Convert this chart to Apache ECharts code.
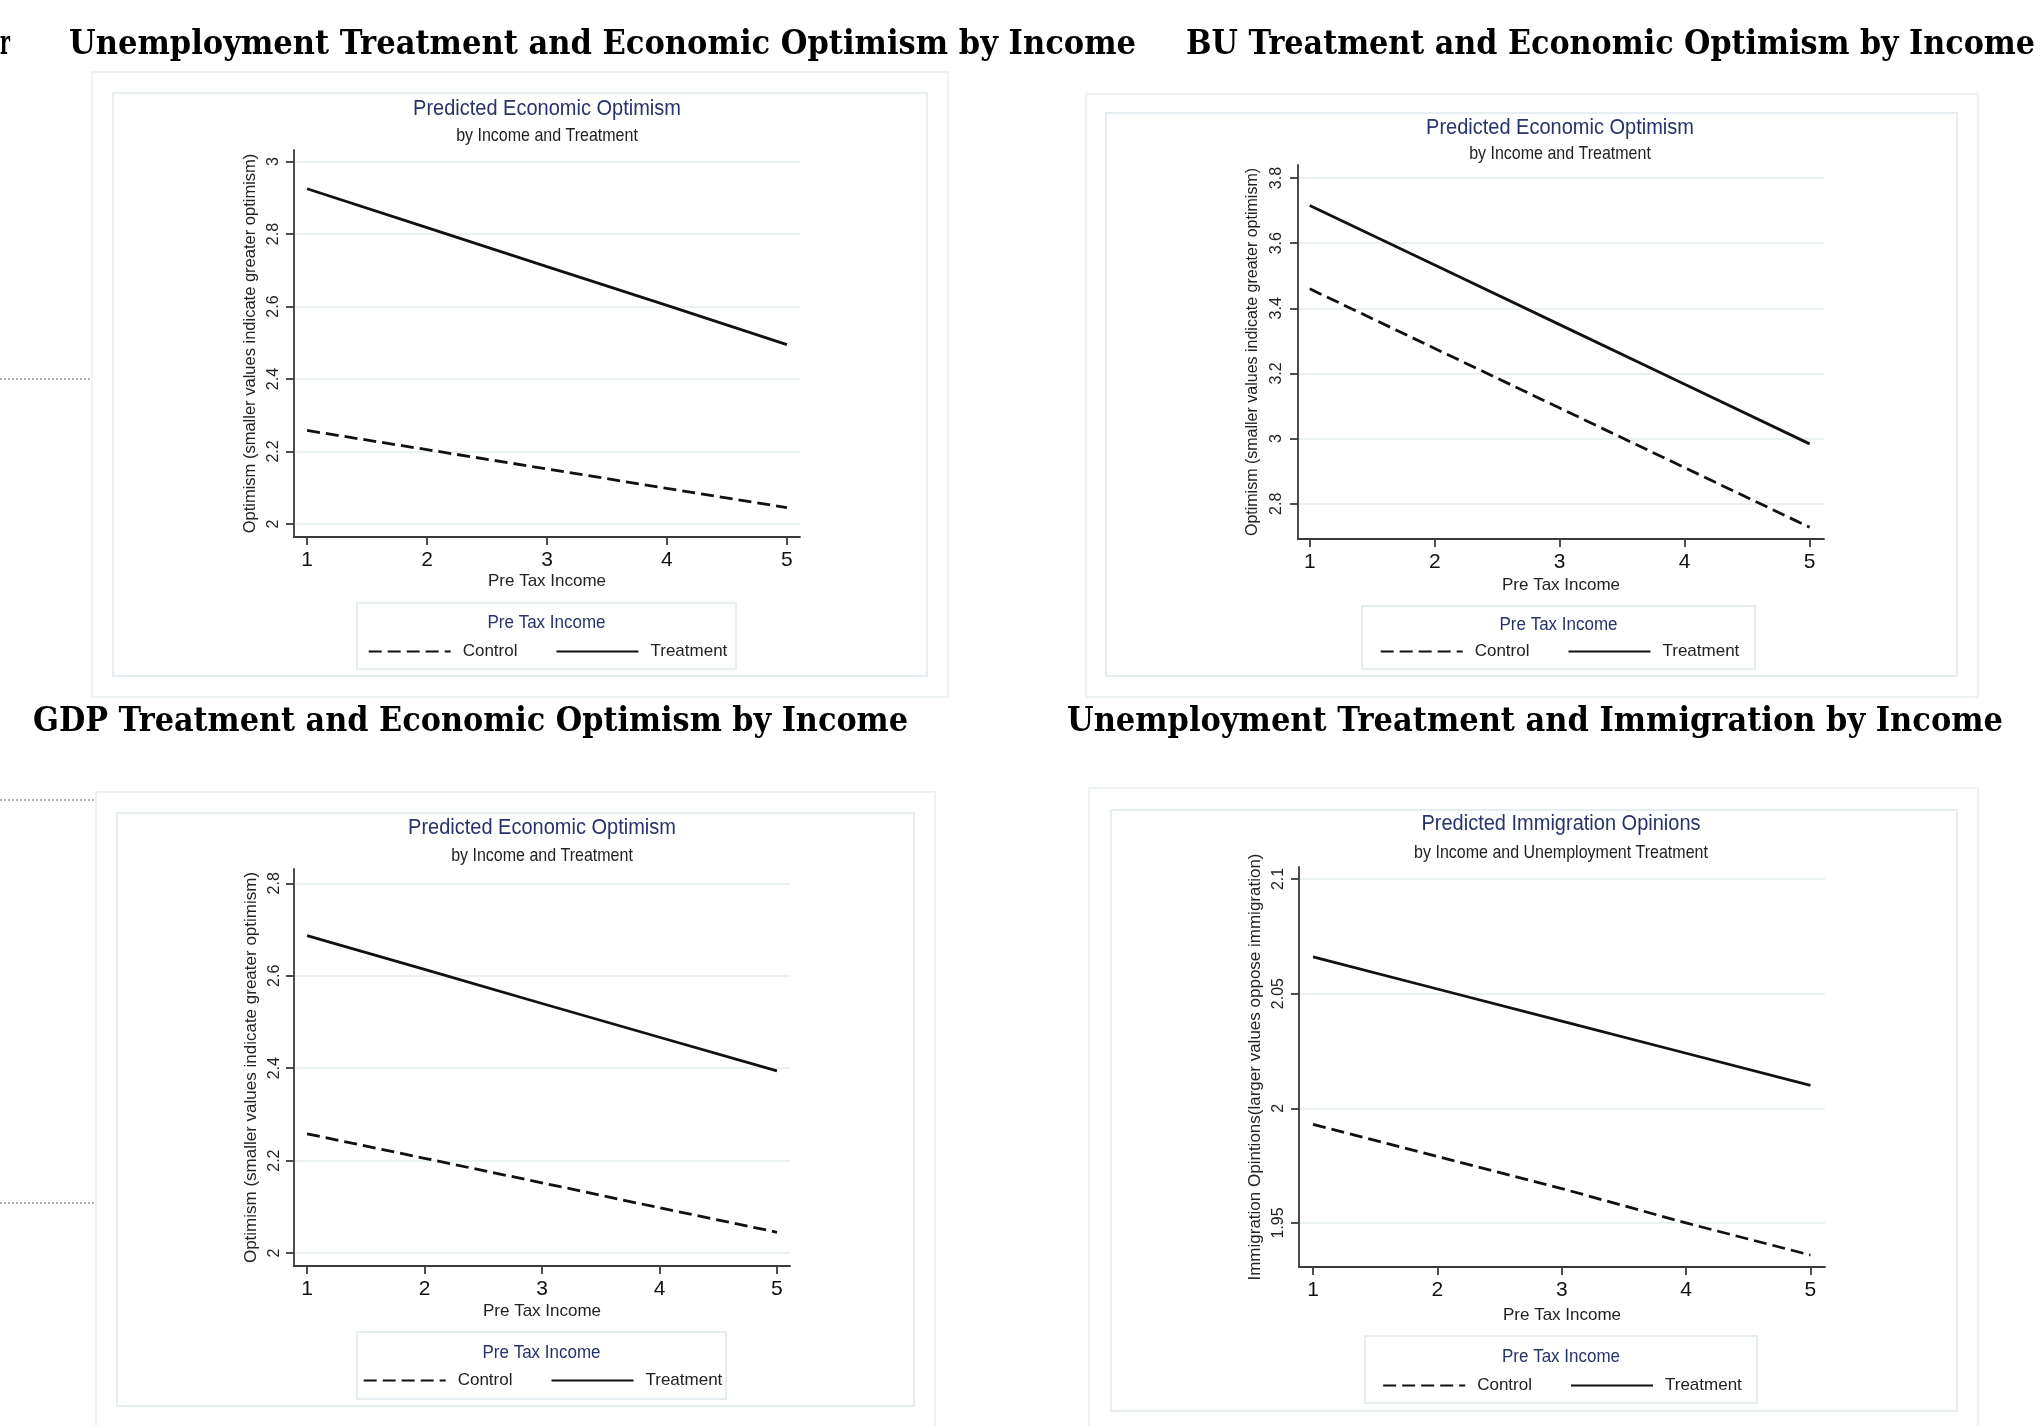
<!DOCTYPE html>
<html>
<head>
<meta charset="utf-8">
<title>Treatment and Optimism by Income</title>
<script src="https://cdn.jsdelivr.net/npm/echarts@6/dist/echarts.min.js"></script>
<style>
  html, body { margin: 0; padding: 0; background: #fff; }
  #chart { width: 2042px; height: 1426px; }
</style>
</head>
<body>
<div id="chart"></div>
<script>
// values
const income = [1, 2, 3, 4, 5];
const xTicks = [1, 2, 3, 4, 5];

const unempControl = [2.258, 2.205, 2.152, 2.098, 2.045];
const unempTreatment = [2.925, 2.818, 2.71, 2.603, 2.495];
const buControl = [3.46, 3.277, 3.094, 2.911, 2.728];
const buTreatment = [3.716, 3.533, 3.35, 3.167, 2.984];
const gdpControl = [2.258, 2.205, 2.152, 2.098, 2.045];
const gdpTreatment = [2.687, 2.614, 2.54, 2.467, 2.394];
const immControl = [1.993, 1.979, 1.965, 1.950, 1.936];
const immTreatment = [2.066, 2.052, 2.038, 2.024, 2.010];

const unempTicks = [2, 2.2, 2.4, 2.6, 2.8, 3];
const buTicks = [2.8, 3, 3.2, 3.4, 3.6, 3.8];
const gdpTicks = [2, 2.2, 2.4, 2.6, 2.8];
const immTicks = [1.95, 2, 2.05, 2.1];

const optName = 'Optimism (smaller values indicate greater optimism)';
const immName = 'Immigration Opintions(larger values oppose immigration)';

const SANS = '"Liberation Sans", Arial, sans-serif';
const SERIF = '"DejaVu Serif Condensed", "Liberation Serif", serif';
const NAVY = '#27336a';

// layout of each plot (page pixels)
const panels = [
  { grid: { left: 294, top: 150, width: 506, height: 387 }, x: [0.891, 5.109], y: [1.964, 3.032],
    ticks: unempTicks, control: unempControl, treatment: unempTreatment, yName: optName,
    title: 'Predicted Economic Optimism', sub: 'by Income and Treatment',
    cx: 547, titleY: 109, subY: 136, box: [357, 603, 379, 66], legTitleY: 623, legY: 650,
    outer: [92, 72, 856, 625], inner: [113, 93, 814, 583],
    nameGap: 35, nameSize: 16.5, labMargin: 12, xNameGap: 36 },
  { grid: { left: 1298, top: 165, width: 526, height: 374 }, x: [0.906, 5.115], y: [2.692, 3.84],
    ticks: buTicks, control: buControl, treatment: buTreatment, yName: optName,
    title: 'Predicted Economic Optimism', sub: 'by Income and Treatment',
    cx: 1560, titleY: 128, subY: 154, box: [1362, 606, 393, 63], legTitleY: 625, legY: 650,
    outer: [1086, 94, 892, 603], inner: [1106, 113, 851, 563],
    nameGap: 37, nameSize: 16, labMargin: 13, xNameGap: 38 },
  { grid: { left: 294, top: 869, width: 496, height: 397 }, x: [0.889, 5.111], y: [1.972, 2.831],
    ticks: gdpTicks, control: gdpControl, treatment: gdpTreatment, yName: optName,
    title: 'Predicted Economic Optimism', sub: 'by Income and Treatment',
    cx: 542, titleY: 828, subY: 856, box: [357, 1332, 369, 67], legTitleY: 1353, legY: 1379,
    outer: [96, 792, 839, 700], inner: [117, 813, 797, 593],
    nameGap: 34, nameSize: 17, labMargin: 11, xNameGap: 37 },
  { grid: { left: 1299, top: 867, width: 526, height: 400 }, x: [0.887, 5.117], y: [1.9308, 2.1052],
    ticks: immTicks, control: immControl, treatment: immTreatment, yName: immName,
    title: 'Predicted Immigration Opinions', sub: 'by Income and Unemployment Treatment',
    cx: 1561, titleY: 824, subY: 853, box: [1365, 1336, 392, 67], legTitleY: 1357, legY: 1384,
    outer: [1089, 788, 889, 700], inner: [1111, 810, 846, 601],
    nameGap: 35, nameSize: 17, labMargin: 12, xNameGap: 40 }
];

const headings = [
  { text: 'r', left: 0, right: 10, y: 45 },
  { text: 'Unemployment Treatment and Economic Optimism by Income', left: 69, right: 1136, y: 45 },
  { text: 'BU Treatment and Economic Optimism by Income', left: 1186, right: 2035, y: 45 },
  { text: 'GDP Treatment and Economic Optimism by Income', left: 33, right: 908, y: 722 },
  { text: 'Unemployment Treatment and Immigration by Income', left: 1067, right: 2003, y: 722 }
];

const ctx = document.createElement('canvas').getContext('2d');
function textWidth(t, font) { ctx.font = font; return ctx.measureText(t).width; }

const grids = [], xAxes = [], yAxes = [], series = [], legends = [], graphics = [];
const fmt = v => String(+(+v).toFixed(2));
const axisStyle = { color: '#3a3a3a', width: 1.8 };

panels.forEach((p, i) => {
  grids.push(Object.assign({ containLabel: false }, p.grid));
  xAxes.push({
    gridIndex: i, type: 'value', min: p.x[0], max: p.x[1],
    name: 'Pre Tax Income', nameLocation: 'middle', nameGap: p.xNameGap,
    nameTextStyle: { fontFamily: SANS, fontSize: 17, color: '#222' },
    axisLine: { show: true, onZero: false, lineStyle: axisStyle },
    axisTick: { show: true, length: 8, customValues: xTicks, lineStyle: axisStyle },
    axisLabel: { customValues: xTicks, fontFamily: SANS, fontSize: 21, color: '#111', margin: 13 },
    splitLine: { show: false }
  });
  yAxes.push({
    gridIndex: i, type: 'value', min: p.y[0], max: p.y[1],
    name: p.yName, nameLocation: 'middle', nameGap: p.nameGap,
    nameTextStyle: { fontFamily: SANS, fontSize: p.nameSize, color: '#222' },
    axisLine: { show: true, onZero: false, lineStyle: axisStyle },
    axisTick: { show: true, length: 8, customValues: p.ticks, lineStyle: axisStyle },
    axisLabel: { customValues: p.ticks, rotate: 90, fontFamily: SANS, fontSize: 16, color: '#222',
      margin: p.labMargin, formatter: fmt },
    splitLine: { show: true, lineStyle: { color: '#e3ecef', width: 1.5 } }
  });
  series.push({
    type: 'line', name: 'Control', xAxisIndex: i, yAxisIndex: i, symbol: 'none', silent: true,
    data: income.map((x, j) => [x, p.control[j]]),
    lineStyle: { color: '#111', width: 2.8, type: [13, 6] }
  });
  series.push({
    type: 'line', name: 'Treatment', xAxisIndex: i, yAxisIndex: i, symbol: 'none', silent: true,
    data: income.map((x, j) => [x, p.treatment[j]]),
    lineStyle: { color: '#111', width: 2.8, type: 'solid' }
  });

  // legend, centred in its box
  const legFont = '17px ' + SANS;
  const contentW = 82 + 12 + textWidth('Control', legFont) + 38 + 82 + 12 + textWidth('Treatment', legFont);
  legends.push({
    left: p.box[0] + p.box[2] / 2 - contentW / 2, top: p.legY - 7, padding: 0,
    itemWidth: 82, itemHeight: 14, itemGap: 38, selectedMode: false,
    data: ['Control', 'Treatment'],
    itemStyle: { color: 'rgba(0,0,0,0)', borderColor: 'rgba(0,0,0,0)', borderWidth: 0 },
    textStyle: { fontFamily: SANS, fontSize: 17, color: '#222', padding: [0, 0, 0, 7] }
  });

  // frames of the pasted graph image
  graphics.push({ type: 'rect', z: -10, shape: { x: p.outer[0], y: p.outer[1], width: p.outer[2], height: p.outer[3] },
    style: { fill: 'none', stroke: '#edf2f4', lineWidth: 2 } });
  graphics.push({ type: 'rect', z: -10, shape: { x: p.inner[0], y: p.inner[1], width: p.inner[2], height: p.inner[3] },
    style: { fill: 'none', stroke: '#e6eef1', lineWidth: 2 } });
  graphics.push({ type: 'rect', z: -10, shape: { x: p.box[0], y: p.box[1], width: p.box[2], height: p.box[3] },
    style: { fill: 'none', stroke: '#e6eef1', lineWidth: 2 } });

  graphics.push({ type: 'text', x: p.cx, y: p.titleY, scaleY: 1.12,
    style: { text: p.title, fontFamily: SANS, fontSize: 20, fill: NAVY, align: 'center', verticalAlign: 'middle' } });
  graphics.push({ type: 'text', x: p.cx, y: p.subY, scaleY: 1.12,
    style: { text: p.sub, fontFamily: SANS, fontSize: 16, fill: '#222', align: 'center', verticalAlign: 'middle' } });
  graphics.push({ type: 'text', x: p.box[0] + p.box[2] / 2, y: p.legTitleY, scaleY: 1.1,
    style: { text: 'Pre Tax Income', fontFamily: SANS, fontSize: 17, fill: NAVY, align: 'center', verticalAlign: 'middle' } });
});

// section headings of the document
const headFont = 'bold 34px ' + SERIF;
headings.forEach(h => {
  const w = textWidth(h.text, headFont);
  graphics.push({ type: 'text', x: h.left, y: h.y, scaleX: (h.right - h.left) / w,
    style: { text: h.text, fontFamily: SERIF, fontWeight: 'bold', fontSize: 34, fill: '#000',
      align: 'left', verticalAlign: 'middle' } });
});

// dotted rules left over from the page
[[379, 91], [800, 95], [1203, 95]].forEach(([y, x2]) => {
  graphics.push({ type: 'line', shape: { x1: 0, y1: y, x2: x2, y2: y },
    style: { stroke: '#666', lineWidth: 1, lineDash: [2, 2] } });
});

const chart = echarts.init(document.getElementById('chart'));
chart.setOption({
  backgroundColor: '#fff',
  animation: false,
  color: ['#111', '#111'],
  grid: grids,
  xAxis: xAxes,
  yAxis: yAxes,
  legend: legends,
  series: series,
  graphic: graphics
});
</script>
</body>
</html>
